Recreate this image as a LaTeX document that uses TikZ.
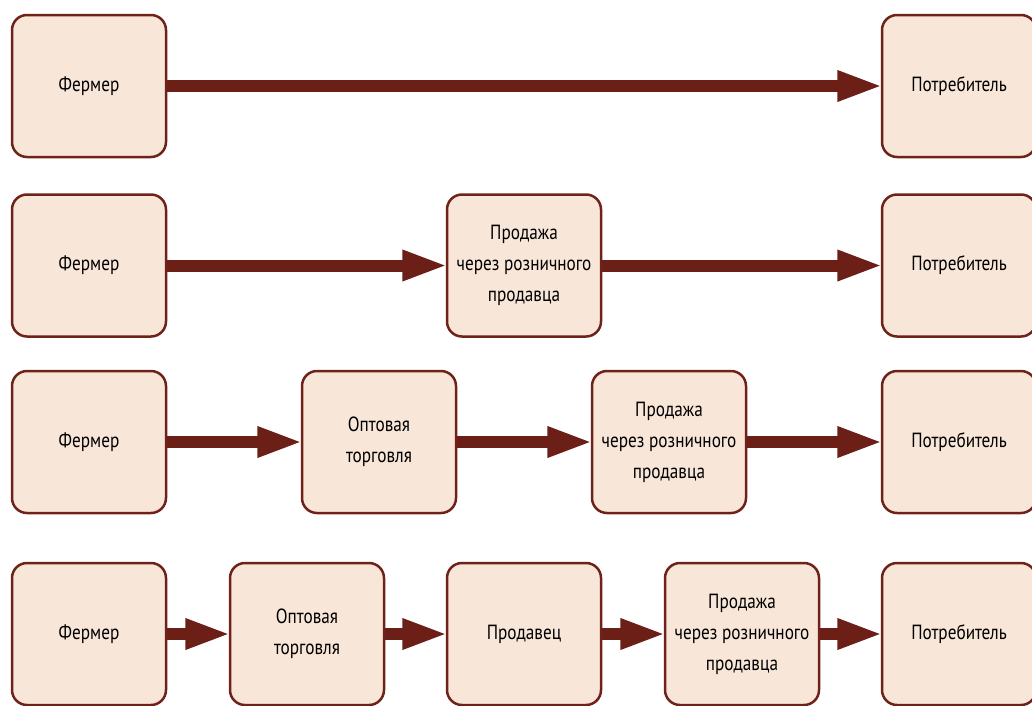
\documentclass[tikz,border=0pt]{standalone}
\usepackage{fontspec}
\setmainfont{PT Sans}[FakeStretch=0.84]
\usetikzlibrary{arrows.meta}
\definecolor{rimred}{HTML}{6E2219}
\definecolor{flowred}{HTML}{6B1F16}
\definecolor{boxfill}{HTML}{F8E6D8}
\tikzset{
  stage/.style={draw=rimred, line width=2.5pt, fill=boxfill, rounded corners=15pt,
    minimum width=154pt, minimum height=142pt, align=center, inner sep=2pt,
    font=\fontsize{20.5}{31}\selectfont},
  flow/.style={draw=flowred, line width=12pt, shorten >=-2.5pt,
    -{Triangle[length=46pt,width=28pt]}}
}
\begin{document}
\begin{tikzpicture}[x=1pt, y=-1pt]
    \useasboundingbox (0,0) rectangle (1032,705);

    % Ряд 1
    \node[stage] (farmerA) at (89,86) {Фермер};
    \node[stage] (consumerA) at (959,86) {Потребитель};
    \draw[flow] (farmerA.east) -- (consumerA.west);

    % Ряд 2
    \node[stage] (farmerB) at (89,265.5) {Фермер};
    \node[stage] (retailB) at (524,265.5) {Продажа\\через розничного\\продавца};
    \node[stage] (consumerB) at (959,265.5) {Потребитель};
    \draw[flow] (farmerB.east) -- (retailB.west);
    \draw[flow] (retailB.east) -- (consumerB.west);

    % Ряд 3
    \node[stage] (farmerC) at (89,442) {Фермер};
    \node[stage] (wholesaleC) at (379,442) {Оптовая\\торговля};
    \node[stage] (retailC) at (669,442) {Продажа\\через розничного\\продавца};
    \node[stage] (consumerC) at (959,442) {Потребитель};
    \draw[flow] (farmerC.east) -- (wholesaleC.west);
    \draw[flow] (wholesaleC.east) -- (retailC.west);
    \draw[flow] (retailC.east) -- (consumerC.west);

    % Ряд 4
    \node[stage] (farmerD) at (89,634) {Фермер};
    \node[stage] (wholesaleD) at (307,634) {Оптовая\\торговля};
    \node[stage] (sellerD) at (524,634) {Продавец};
    \node[stage] (retailD) at (742,634) {Продажа\\через розничного\\продавца};
    \node[stage] (consumerD) at (959,634) {Потребитель};
    \draw[flow] (farmerD.east) -- (wholesaleD.west);
    \draw[flow] (wholesaleD.east) -- (sellerD.west);
    \draw[flow] (sellerD.east) -- (retailD.west);
    \draw[flow] (retailD.east) -- (consumerD.west);

\end{tikzpicture}
\end{document}
